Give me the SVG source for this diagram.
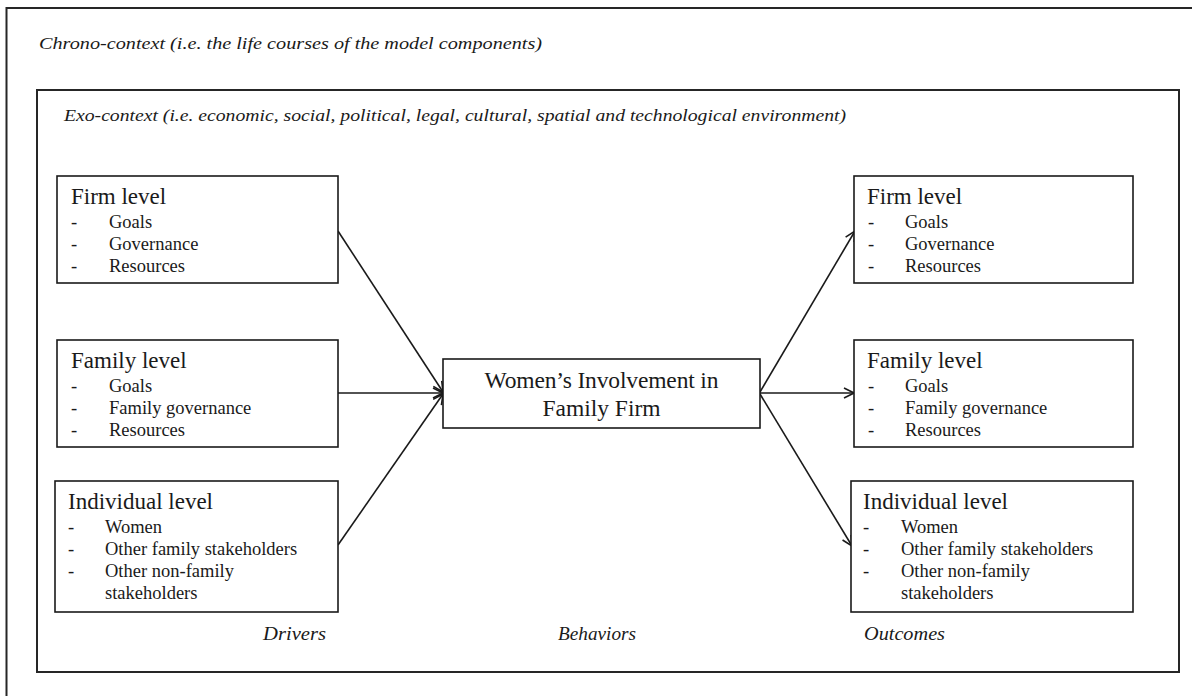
<svg xmlns="http://www.w3.org/2000/svg" width="1192" height="696" viewBox="0 0 1192 696">
  <style>
    text { font-family: "Liberation Serif", "Times New Roman", Times, serif; fill: #1a1a1a; }
    .ctx { font-size: 16px; font-style: italic; }
    .title { font-size: 23px; }
    .item { font-size: 18.5px; }
    .mid { font-size: 23.5px; }
    .lab { font-size: 18px; font-style: italic; }
    .frame { fill: none; stroke: #262626; stroke-width: 2; }
    .box { fill: #ffffff; stroke: #1a1a1a; stroke-width: 1.6; }
    .link { fill: none; stroke: #1a1a1a; stroke-width: 1.6; marker-end: url(#open-arrow); }
  </style>
  <defs>
    <marker id="open-arrow" viewBox="0 0 12 12" refX="11" refY="6" markerWidth="12" markerHeight="12" markerUnits="userSpaceOnUse" orient="auto">
      <path d="M1,1 L11,6 L1,11" fill="none" stroke="#1a1a1a" stroke-width="1.6"/>
    </marker>
  </defs>

  <rect width="1192" height="696" fill="#ffffff"/>

  <!-- outer context frame -->
  <g id="chrono-context">
    <rect class="frame" x="6.5" y="8" width="1200" height="720"/>
    <text class="ctx" x="39" y="49" textLength="503" lengthAdjust="spacingAndGlyphs">Chrono-context (i.e. the life courses of the model components)</text>
  </g>

  <!-- inner context frame -->
  <g id="exo-context">
    <rect class="frame" x="37" y="90" width="1142" height="582"/>
    <text class="ctx" x="64" y="121" textLength="782" lengthAdjust="spacingAndGlyphs">Exo-context (i.e. economic, social, political, legal,  cultural, spatial and technological environment)</text>
  </g>

  <!-- connectors -->
  <g id="connectors">
    <line class="link" x1="338" y1="231" x2="443" y2="392"/>
    <line class="link" x1="338" y1="393" x2="443" y2="393"/>
    <line class="link" x1="338" y1="545" x2="443" y2="394"/>
    <line class="link" x1="760" y1="392" x2="855" y2="231"/>
    <line class="link" x1="760" y1="393" x2="854" y2="393"/>
    <line class="link" x1="760" y1="394" x2="852" y2="546"/>
  </g>

  <!-- drivers -->
  <g id="driver-firm">
    <rect class="box" x="57" y="176" width="281" height="107"/>
    <text class="title" x="71" y="204">Firm level</text>
    <text class="item" x="71" y="228">-</text><text class="item" x="109" y="228">Goals</text>
    <text class="item" x="71" y="250">-</text><text class="item" x="109" y="250">Governance</text>
    <text class="item" x="71" y="272">-</text><text class="item" x="109" y="272">Resources</text>
  </g>
  <g id="driver-family">
    <rect class="box" x="57" y="340" width="281" height="107"/>
    <text class="title" x="71" y="368">Family level</text>
    <text class="item" x="71" y="392">-</text><text class="item" x="109" y="392">Goals</text>
    <text class="item" x="71" y="414">-</text><text class="item" x="109" y="414">Family governance</text>
    <text class="item" x="71" y="436">-</text><text class="item" x="109" y="436">Resources</text>
  </g>
  <g id="driver-individual">
    <rect class="box" x="55" y="481" width="283" height="131"/>
    <text class="title" x="68" y="509">Individual level</text>
    <text class="item" x="68" y="533">-</text><text class="item" x="105" y="533">Women</text>
    <text class="item" x="68" y="555">-</text><text class="item" x="105" y="555">Other family stakeholders</text>
    <text class="item" x="68" y="577">-</text><text class="item" x="105" y="577">Other non-family</text>
    <text class="item" x="105" y="599">stakeholders</text>
  </g>

  <!-- behaviors -->
  <g id="behavior">
    <rect class="box" x="443" y="359" width="317" height="69"/>
    <text class="mid" x="601.5" y="388" text-anchor="middle" textLength="234" lengthAdjust="spacing">Women’s Involvement in</text>
    <text class="mid" x="601.5" y="416" text-anchor="middle">Family Firm</text>
  </g>

  <!-- outcomes -->
  <g id="outcome-firm">
    <rect class="box" x="854" y="176" width="279" height="107"/>
    <text class="title" x="867" y="204">Firm level</text>
    <text class="item" x="868" y="228">-</text><text class="item" x="905" y="228">Goals</text>
    <text class="item" x="868" y="250">-</text><text class="item" x="905" y="250">Governance</text>
    <text class="item" x="868" y="272">-</text><text class="item" x="905" y="272">Resources</text>
  </g>
  <g id="outcome-family">
    <rect class="box" x="854" y="340" width="279" height="107"/>
    <text class="title" x="867" y="368">Family level</text>
    <text class="item" x="868" y="392">-</text><text class="item" x="905" y="392">Goals</text>
    <text class="item" x="868" y="414">-</text><text class="item" x="905" y="414">Family governance</text>
    <text class="item" x="868" y="436">-</text><text class="item" x="905" y="436">Resources</text>
  </g>
  <g id="outcome-individual">
    <rect class="box" x="851" y="481" width="282" height="131"/>
    <text class="title" x="863" y="509">Individual level</text>
    <text class="item" x="863" y="533">-</text><text class="item" x="901" y="533">Women</text>
    <text class="item" x="863" y="555">-</text><text class="item" x="901" y="555">Other family stakeholders</text>
    <text class="item" x="863" y="577">-</text><text class="item" x="901" y="577">Other non-family</text>
    <text class="item" x="901" y="599">stakeholders</text>
  </g>

  <!-- column captions -->
  <g id="captions">
    <text class="lab" x="263" y="640" textLength="63" lengthAdjust="spacingAndGlyphs">Drivers</text>
    <text class="lab" x="558" y="640" textLength="78" lengthAdjust="spacingAndGlyphs">Behaviors</text>
    <text class="lab" x="864" y="640" textLength="81" lengthAdjust="spacingAndGlyphs">Outcomes</text>
  </g>
</svg>
